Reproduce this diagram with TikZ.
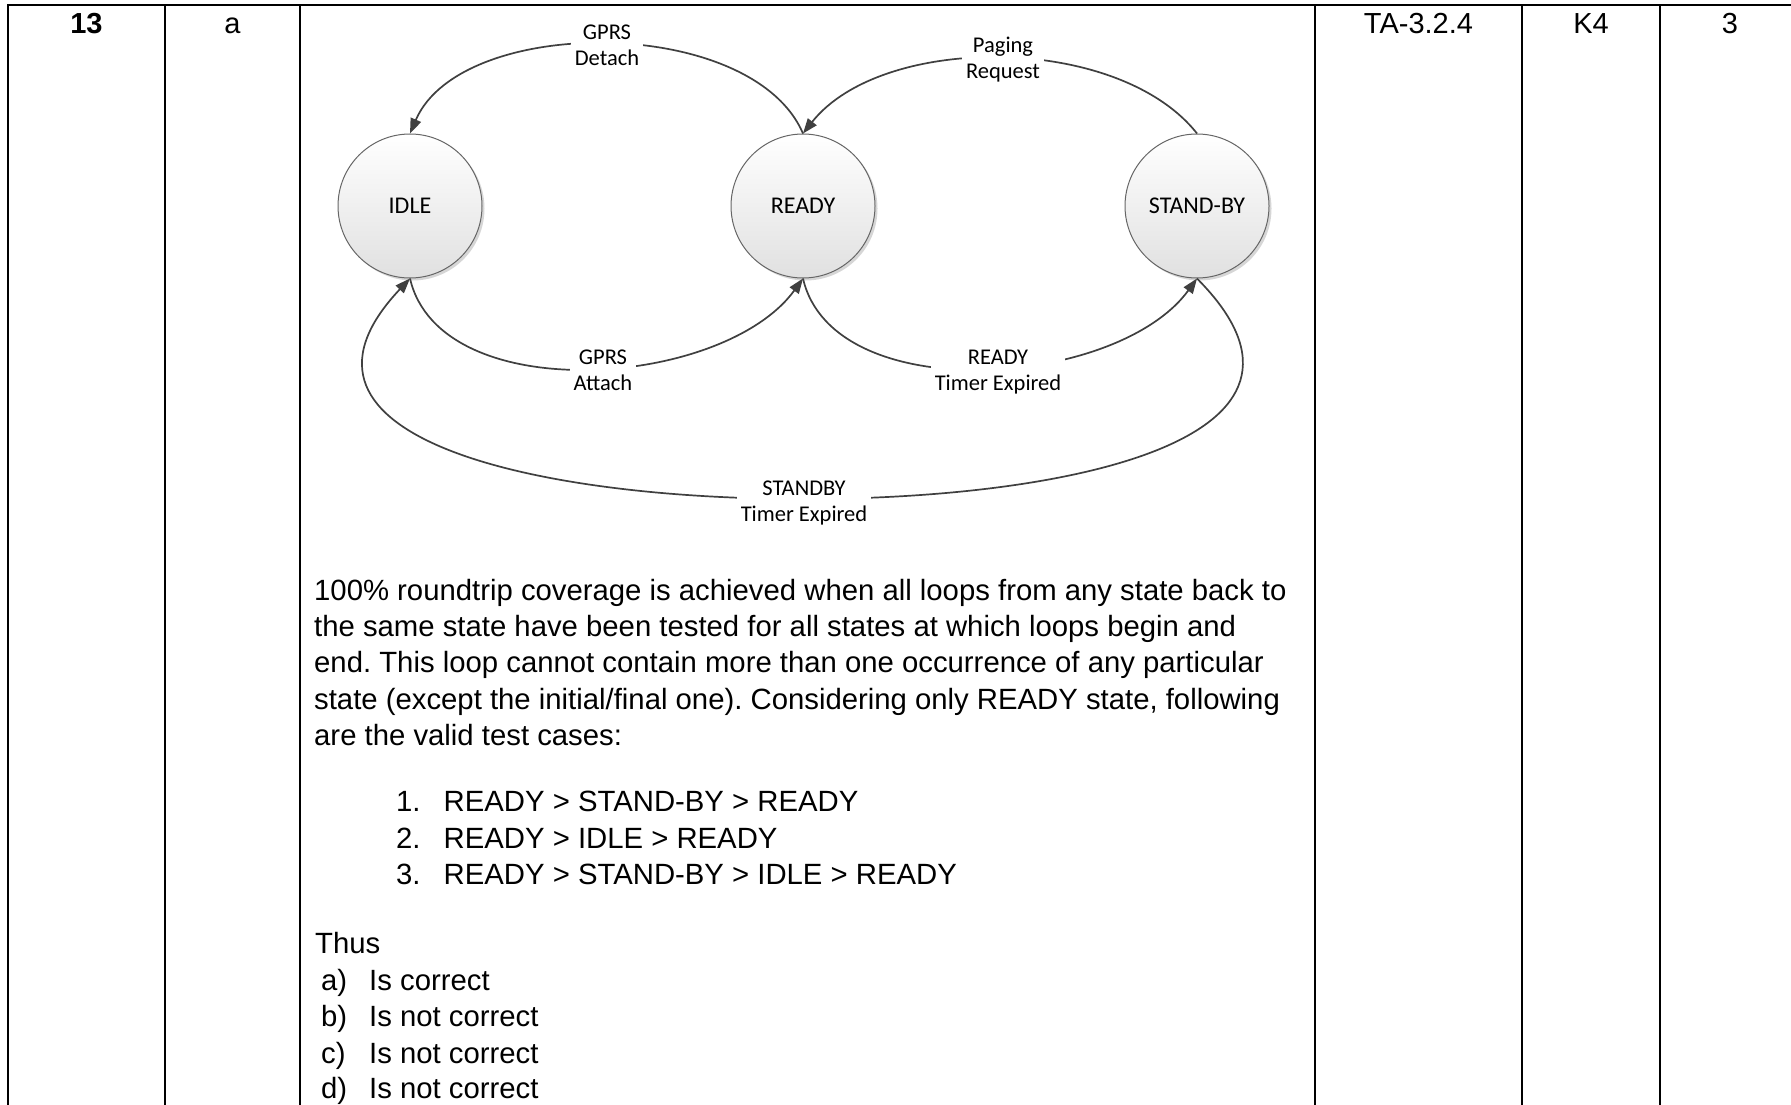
\documentclass[tikz,border=0pt]{standalone}
\usepackage{fontspec}
\setmainfont{Liberation Sans}
\newfontfamily\calfont{Carlito}
\usetikzlibrary{arrows.meta,shadows}
\frenchspacing
\begin{document}
\begin{tikzpicture}[x=1pt,y=-1pt,
  state/.style={circle, draw=black!60, line width=1pt, minimum size=144pt, inner sep=0pt,
    top color=white, bottom color=black!12,
    font=\calfont\fontsize{24}{28}\selectfont,
    drop shadow={shadow xshift=2.5pt, shadow yshift=-2.5pt, fill=black!35, opacity=0.45}},
  edge/.style={draw=black!75, line width=1.7pt, -{Triangle[length=15pt,width=11pt]}},
  lbl/.style={fill=white, align=center, inner xsep=4pt, inner ysep=2pt,
    font=\calfont\fontsize{22.5}{26}\selectfont},
  hdr/.style={anchor=base, inner sep=0pt, font=\fontsize{29}{33}\selectfont},
  body/.style={anchor=base west, inner sep=0pt, font=\fontsize{29.3}{36}\selectfont},
  grid/.style={line width=2.2pt, line cap=rect}
]
\fill[white] (0,0) rectangle (1791,1105);
\useasboundingbox (0,0) rectangle (1791,1105);

% table
\draw[grid] (8,1110) -- (8,5) -- (1800,5);
\foreach \xx in {165,300,1315,1522,1660} \draw[grid] (\xx,5) -- (\xx,1110);

% header cells
\node[hdr, font=\bfseries\fontsize{29}{33}\selectfont] (h1) at (86.5,33.3) {13};
\node[hdr] (h2) at (232.5,33.3) {a};
\node[hdr] (h3) at (1418.5,33.3) {TA-3.2.4};
\node[hdr] (h4) at (1591,33.3) {K4};
\node[hdr] (h5) at (1730,33.3) {3};

% states
\node[state] (idle) at (410,206) {IDLE};
\node[state] (ready) at (803,206) {READY};
\node[state] (standby) at (1197,206) {STAND-BY};

\coordinate (m5) at (804,499);

% transitions
\draw[edge] (ready.north) .. controls +(-51,-118.7) and +(51,-118.7) .. (idle.north);
\draw[edge] (standby.north) .. controls +(-79,-100) and +(79,-100) .. (ready.north);
\draw[edge] (idle.south) .. controls +(30,130) and +(-80,110) .. (ready.south);
\draw[edge] (ready.south) .. controls +(30,130) and +(-80,110) .. (standby.south);
\draw[edge] (standby.south) .. controls +(160,161) and +(264,0) .. (m5)
   .. controls +(-264,0) and +(-152,161) .. (idle.south);

% transition labels
\node[lbl] (l1) at (607,45.1) {GPRS\\Detach};
\node[lbl] (l2) at (1003,59.9) {Paging\\Request};
\node[lbl] (l3) at (603,370) {GPRS\\Attach};
\node[lbl] (l4) at (998,372.3) {READY\\Timer Expired};
\node[lbl] (l5) at (804,503.3) {STANDBY\\Timer Expired};

% body text
\node[body] (t1) at (314,600) {100\% roundtrip coverage is achieved when all loops from any state back to};
\node[body] (t2) at (314,636.4) {the same state have been tested for all states at which loops begin and};
\node[body] (t3) at (314,672.8) {end. This loop cannot contain more than one occurrence of any particular};
\node[body] (t4) at (314,709.2) {state (except the initial/final one). Considering only READY state, following};
\node[body] (t5) at (314,745.6) {are the valid test cases:};

\node[body] (n1) at (396,811.7) {1.};
\node[body] (i1) at (443.5,811.7) {READY > STAND-BY > READY};
\node[body] (n2) at (396,848.3) {2.};
\node[body] (i2) at (443.5,848.3) {READY > IDLE > READY};
\node[body] (n3) at (396,884.7) {3.};
\node[body] (i3) at (443.5,884.7) {READY > STAND-BY > IDLE > READY};

\node[body] (th) at (315,953) {Thus};
\node[body] (oa) at (321,990) {a)};
\node[body] (ta) at (369,990) {Is correct};
\node[body] (ob) at (321,1026.7) {b)};
\node[body] (tb) at (369,1026.7) {Is not correct};
\node[body] (oc) at (321,1063) {c)};
\node[body] (tc) at (369,1063) {Is not correct};
\node[body] (od) at (321,1098) {d)};
\node[body] (td) at (369,1098) {Is not correct};
\end{tikzpicture}
\end{document}
